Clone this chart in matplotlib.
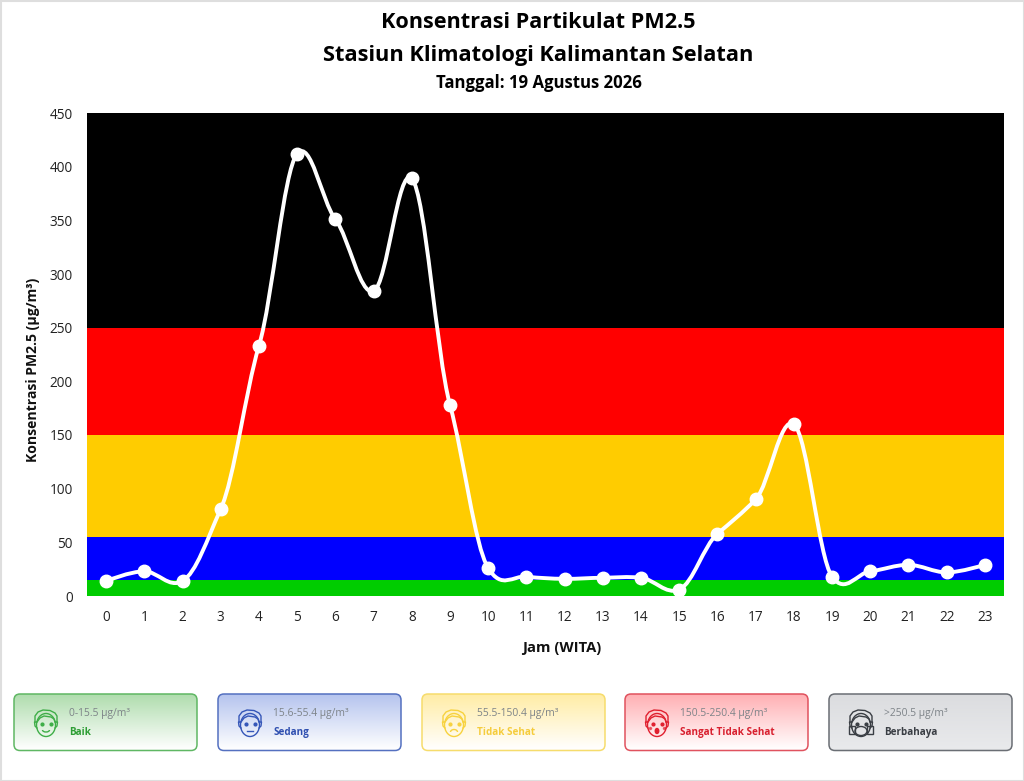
import numpy as np
import matplotlib
matplotlib.use("Agg")
import matplotlib.pyplot as plt
from matplotlib.path import Path
from matplotlib.patches import PathPatch, FancyBboxPatch, Rectangle, Ellipse, Arc

plt.rcParams['font.family'] = ['Open Sans', 'DejaVu Sans']

# hourly PM2.5
hours = list(range(24))
pm25 = [14, 23, 14, 81, 233, 412, 351, 284, 389, 178, 26, 18,
        16, 17, 17, 6, 58, 90, 160, 18, 23, 29, 22, 29]

band_edges = [0, 15, 55, 150, 250, 450]
band_colors = ['#00cc00', '#0000ff', '#ffcc00', '#ff0000', '#000000']

card_ranges = ['0-15.5 µg/m³', '15.6-55.4 µg/m³', '55.5-150.4 µg/m³', '150.5-250.4 µg/m³', '>250.5 µg/m³']
card_labels = ['Baik', 'Sedang', 'Tidak Sehat', 'Sangat Tidak Sehat', 'Berbahaya']
card_moods = ['smile', 'flat', 'sad', 'shock', 'mask']
card_left = [14, 218, 422, 625, 829]
card_top_col = ['#aedcac', '#b4c3ee', '#ffeca4', '#ffaeb2', '#dbdcdf']
card_bot_col = ['#ffffff', '#ffffff', '#ffffff', '#ffffff', '#e9eaec']
card_edge = ['#5fb763', '#5470c0', '#f6dc6c', '#e0525e', '#6a6e74']
card_icon = ['#3fae48', '#3556b8', '#f7d23e', '#e0202f', '#3a3e44']
card_text = ['#2e9e35', '#2f4fb0', '#f5cc3c', '#d8202f', '#3a3e44']

W, H = 1024, 781
fig = plt.figure(figsize=(W / 100, H / 100), dpi=100, facecolor='white')

# plot area in pixels: x 87-1004, y 113-596
ax = fig.add_axes([87 / W, 1 - 596 / H, 917 / W, 483 / H])
ax.set_xlim(-0.5, 23.5)
ax.set_ylim(0, 450)
for lo, hi, c in zip(band_edges[:-1], band_edges[1:], band_colors):
    ax.axhspan(lo, hi, color=c, lw=0, zorder=1)


def spline_path(xs, ys, tx=0.18, ty=0.13):
    # bezier through the points, tangent from the two neighbours
    xs = np.asarray(xs, float)
    ys = np.asarray(ys, float)
    verts = [(xs[0], ys[0])]
    codes = [Path.MOVETO]
    prev_ctrl = (xs[0], ys[0])
    for i in range(1, len(xs)):
        if i < len(xs) - 1:
            dx, dy = xs[i + 1] - xs[i - 1], ys[i + 1] - ys[i - 1]
            c1 = (xs[i] - tx * dx, ys[i] - ty * dy)
            c2 = (xs[i] + tx * dx, ys[i] + ty * dy)
        else:
            c1 = c2 = (xs[i], ys[i])
        verts += [prev_ctrl, c1, (xs[i], ys[i])]
        codes += [Path.CURVE4] * 3
        prev_ctrl = c2
    return Path(verts, codes)


ax.add_patch(PathPatch(spline_path(hours, pm25), fc='none', ec='white', lw=2.8, zorder=3))
ax.plot(hours, pm25, ls='none', marker='o', ms=9, mfc='white', mec='white', zorder=4)

ax.set_xticks(hours)
ax.set_yticks(range(0, 451, 50))
ax.tick_params(length=0, labelsize=9.8, labelcolor='#222222')
ax.tick_params(axis='x', pad=10)
ax.tick_params(axis='y', pad=10)
for s in ax.spines.values():
    s.set_visible(False)

# everything else is placed in pixel coordinates on an overlay
ov = fig.add_axes([0, 0, 1, 1], facecolor='none')
ov.set_xlim(0, W)
ov.set_ylim(H, 0)
ov.axis('off')

ov.add_patch(Rectangle((0.5, 0.5), W - 1, H - 1, fc='none', ec='#dedede', lw=1.5))

ov.text(538.5, 23, 'Konsentrasi Partikulat PM2.5', ha='center', va='center', fontsize=15.6, fontweight='bold', color='black')
ov.text(538.5, 55, 'Stasiun Klimatologi Kalimantan Selatan', ha='center', va='center', fontsize=15.7, fontweight='bold', color='black')
ov.text(539, 83, 'Tanggal: 19 Agustus 2026', ha='center', va='center', fontsize=12.1, fontweight='bold', color='black')
ov.text(561.5, 648, 'Jam (WITA)', ha='center', va='center', fontsize=10.6, fontweight='bold', color='#111111')
ov.text(33, 370, 'Konsentrasi PM2.5 (µg/m³)', ha='center', va='center', rotation=90, fontsize=10.1, fontweight='bold', color='#111111')


def draw_face(x, y, col, mood):
    lw, z = 1.0, 5
    ov.add_patch(Ellipse((x, y + 2), 19, 23, fc='none', ec=col, lw=lw, zorder=z))
    # ears
    ov.plot([x - 9.5, x - 11.5, x - 11, x - 9], [y - 1, y - 1, y + 3, y + 5], color=col, lw=lw, zorder=z)
    ov.plot([x + 9.5, x + 11.5, x + 11, x + 9], [y - 1, y - 1, y + 3, y + 5], color=col, lw=lw, zorder=z)
    # hair
    hx = [x - 11, x - 11, x - 8, x - 3, x + 4, x + 9, x + 11, x + 11]
    hy = [y - 1, y - 7, y - 11, y - 13, y - 12.5, y - 10, y - 7, y - 1]
    ov.plot(hx, hy, color=col, lw=lw, zorder=z)
    ov.plot([x - 9, x - 6, x - 2, x + 5, x + 8, x + 9],
            [y - 1, y - 5, y - 7, y - 6, y - 4, y - 1], color=col, lw=lw, zorder=z)
    ov.plot([x - 4.5, x + 4.5], [y + 1, y + 1], ls='none', marker='o', ms=2, color=col, zorder=z)
    if mood == 'smile':
        ov.add_patch(Arc((x, y + 7), 7, 4, theta1=0, theta2=180, color=col, lw=lw, zorder=z))
    elif mood == 'flat':
        ov.plot([x - 3, x + 3], [y + 8, y + 8], color=col, lw=lw, zorder=z)
    elif mood == 'sad':
        ov.add_patch(Arc((x, y + 9), 7, 5, theta1=180, theta2=360, color=col, lw=lw, zorder=z))
    elif mood == 'shock':
        ov.add_patch(Ellipse((x, y + 8), 3.5, 5, fc=col, ec=col, lw=lw, zorder=z))
        ov.plot([x - 7, x + 7], [y + 5, y + 5], ls='none', marker='o', ms=1.5, color=col, alpha=0.6, zorder=z)
    else:
        ov.add_patch(Rectangle((x - 12, y + 3), 6, 8, fc='none', ec=col, lw=lw, zorder=z))
        ov.add_patch(Rectangle((x + 6, y + 3), 6, 8, fc='none', ec=col, lw=lw, zorder=z))
        ov.add_patch(Ellipse((x, y + 8), 12, 9, fc='none', ec=col, lw=lw, zorder=z))


card_w, card_h, card_y = 183, 56.5, 694
for i in range(len(card_labels)):
    lx = card_left[i]
    box = FancyBboxPatch((lx + 5, card_y + 5), card_w - 10, card_h - 10,
                         boxstyle='round,pad=5,rounding_size=6', fc='none', ec=card_edge[i], lw=1.1, zorder=3)
    ov.add_patch(box)
    c0 = np.array(matplotlib.colors.to_rgb(card_top_col[i]))
    c1 = np.array(matplotlib.colors.to_rgb(card_bot_col[i]))
    frac = np.linspace(0, 1, 64)[:, None, None]
    grad = c0[None, None, :] * (1 - frac) + c1[None, None, :] * frac
    im = ov.imshow(grad, extent=(lx, lx + card_w, card_y + card_h, card_y), aspect='auto', zorder=2)
    im.set_clip_path(box)
    draw_face(lx + 32, 723, card_icon[i], card_moods[i])
    ov.text(lx + 55, 713.5, card_ranges[i], va='center', fontsize=7.4, color='#7d8388', zorder=4)
    ov.text(lx + 55, 732.5, card_labels[i], va='center', fontsize=7.1, fontweight='bold', color=card_text[i], zorder=4)
ov.set_xlim(0, W)
ov.set_ylim(H, 0)

fig.savefig('out.png', dpi=100)
